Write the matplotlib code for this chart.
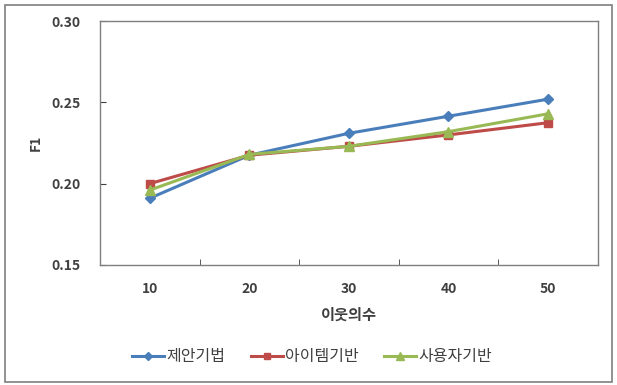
import matplotlib
matplotlib.use("Agg")
import matplotlib.pyplot as plt
from matplotlib.patches import Rectangle

plt.rcParams['font.family'] = ['Noto Sans CJK KR', 'DejaVu Sans']

categories = ['10', '20', '30', '40', '50']
proposed = [0.191, 0.2175, 0.231, 0.2415, 0.252]
item_based = [0.200, 0.2175, 0.223, 0.230, 0.2375]
user_based = [0.196, 0.218, 0.223, 0.232, 0.243]
series_names = ['제안기법', '아이템기반', '사용자기반']

fig = plt.figure(figsize=(6.17, 3.85), dpi=100)
fig.patches.append(Rectangle((0.008, 0.008), 0.984, 0.98, transform=fig.transFigure,
                             fill=False, edgecolor='#7f7f7f', linewidth=1.2))
ax = fig.add_axes([0.162, 0.312, 0.807, 0.633])

x = list(range(1, len(categories) + 1))
ax.plot(x, proposed, color='#4a7ebb', marker='D', markersize=5, linewidth=2.2, label=series_names[0])
ax.plot(x, item_based, color='#be4b48', marker='s', markersize=6, linewidth=2.2, label=series_names[1])
ax.plot(x, user_based, color='#98b954', marker='^', markersize=6.5, linewidth=2.2, label=series_names[2])

ax.set_xlim(0.5, 5.5)
ax.set_ylim(0.15, 0.30)
ax.set_yticks([0.15, 0.20, 0.25, 0.30])
ax.set_yticklabels(['0.15', '0.20', '0.25', '0.30'])
ax.set_xticks(x)
ax.set_xticklabels(categories)
ax.set_xticks([1.5, 2.5, 3.5, 4.5], minor=True)
ax.tick_params(axis='x', which='major', length=0, pad=12, labelsize=10, labelcolor='#404040')
ax.tick_params(axis='x', which='minor', direction='in', length=4, color='#404040')
ax.tick_params(axis='y', direction='in', length=4, pad=14, labelsize=10, labelcolor='#404040', color='#404040')
for lab in ax.get_xticklabels() + ax.get_yticklabels():
    lab.set_fontweight('bold')
for s in ax.spines.values():
    s.set_color('#7f7f7f')
    s.set_linewidth(1.0)

ax.set_xlabel('이웃의수', fontsize=11, fontweight='bold', color='#404040', labelpad=8)
ax.set_ylabel('F1', fontsize=10, fontweight='bold', color='#404040', labelpad=6)

ax.legend(loc='center', bbox_to_anchor=(0.426, -0.377), ncol=3, frameon=False,
          fontsize=11.5, handlelength=2.0, columnspacing=1.6, handletextpad=0.15, markerscale=0.8,
          labelcolor='#404040')

fig.savefig('out.png', dpi=100)
